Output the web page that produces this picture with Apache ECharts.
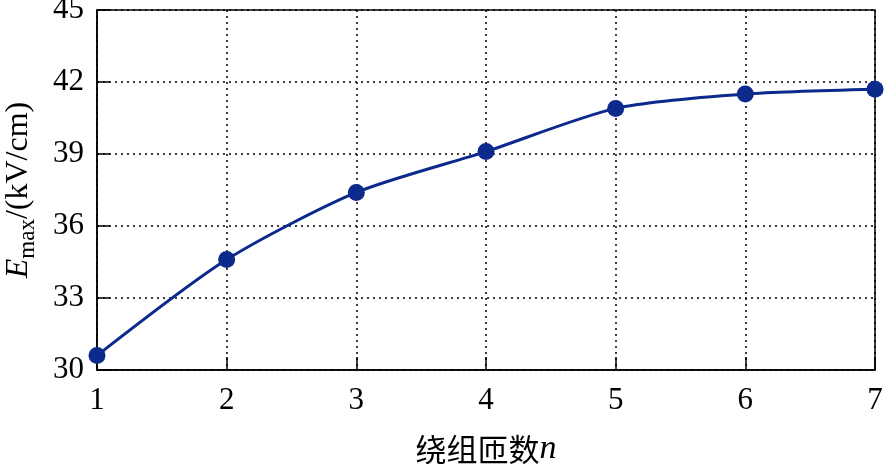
<!DOCTYPE html>
<html><head><meta charset="utf-8">
<script src="https://cdn.jsdelivr.net/npm/echarts@6/dist/echarts.min.js"></script>
<style>html,body{margin:0;padding:0;background:#fff}#c{width:885px;height:465px}</style>
</head><body><div id="c"></div>
<script>
const categories = [1, 2, 3, 4, 5, 6, 7];
const emaxValues = [30.6, 34.6, 37.4, 39.1, 40.9, 41.5, 41.7];
const yTicks = [30, 33, 36, 39, 42, 45];
const FONT = 'Liberation Serif, Times New Roman, Tinos, serif';
const chart = echarts.init(document.getElementById('c'));
const axisLine = {show: true, lineStyle: {color: '#000', width: 1.5}};
chart.setOption({
  backgroundColor: '#fff',
  animation: false,
  grid: {left: 97, right: 10, top: 10, bottom: 95, show: true, borderColor: '#000', borderWidth: 1.5, outerBoundsMode: 'none', containLabel: false},
  xAxis: {
    type: 'value', min: 1, max: 7, interval: 1,
    axisLine: axisLine,
    axisTick: {show: true, inside: true, length: 13, lineStyle: {color: '#000', width: 1.5}},
    splitLine: {show: true, lineStyle: {color: '#000', type: [2, 4], width: 1.5}},
    axisLabel: {color: '#000', fontFamily: FONT, fontSize: 31, margin: 15, showMinLabel: true, showMaxLabel: true},
    name: '{c|绕组匝数}{n|n}',
    nameLocation: 'middle', nameGap: 62,
    nameTextStyle: {rich: {
      c: {fontFamily: '"Noto Sans CJK SC",sans-serif', fontSize: 31, color: '#000'},
      n: {fontFamily: FONT, fontStyle: 'italic', fontSize: 34, color: '#000'}
    }}
  },
  yAxis: {
    type: 'value', min: yTicks[0], max: yTicks[yTicks.length - 1], interval: 3,
    axisLine: axisLine,
    axisTick: {show: true, inside: true, length: 13, lineStyle: {color: '#000', width: 1.5}},
    splitLine: {show: true, lineStyle: {color: '#000', type: [2, 4], width: 1.5}},
    axisLabel: {color: '#000', fontFamily: FONT, fontSize: 31, margin: 13},
    name: '{e|E}{s|max}{t|/(kV/cm)}',
    nameLocation: 'middle', nameGap: 58,
    nameTextStyle: {rich: {
      e: {fontFamily: FONT, fontStyle: 'italic', fontSize: 32, color: '#000', lineHeight: 40},
      s: {fontFamily: FONT, fontSize: 23, color: '#000', lineHeight: 20, verticalAlign: 'bottom'},
      t: {fontFamily: FONT, fontSize: 32, color: '#000', lineHeight: 40}
    }}
  },
  series: [{
    type: 'line',
    data: categories.map((c, i) => [c, emaxValues[i]]),
    smooth: 0.25,
    symbol: 'circle', symbolSize: 17,
    lineStyle: {color: '#0b2a8c', width: 3},
    itemStyle: {color: '#0b2a8c'}
  }]
});
</script></body></html>
